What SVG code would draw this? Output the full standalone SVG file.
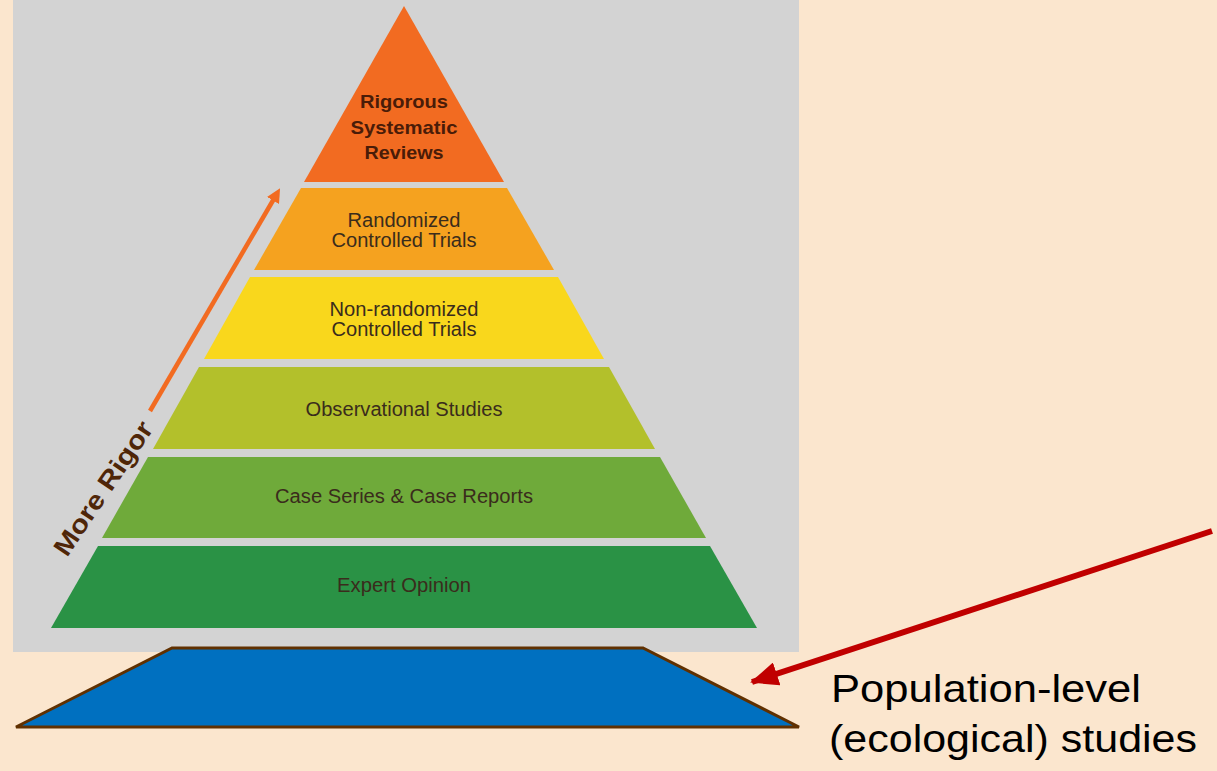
<svg xmlns="http://www.w3.org/2000/svg" width="1217" height="771" viewBox="0 0 1217 771">
<defs>
<style>
.tier-label{font-family:"Liberation Sans",Arial,sans-serif;font-size:19.5px;fill:#3a2c1c;text-anchor:middle}
.top-label{font-family:"Liberation Sans",Arial,sans-serif;font-size:18.5px;font-weight:bold;fill:#4a1c08;text-anchor:middle}
.pop{font-family:"Liberation Sans",Arial,sans-serif;font-size:39px;fill:#000}
</style>
<marker id="oarrow" markerWidth="14" markerHeight="14" refX="4" refY="7" orient="auto" markerUnits="userSpaceOnUse">
<path d="M0,0 L14,7 L0,14 Z" fill="#F26B21"/>
</marker>
<marker id="rarrow" markerWidth="28" markerHeight="24" refX="26" refY="12" orient="auto" markerUnits="userSpaceOnUse">
<path d="M0,0 L28,12 L0,24 Z" fill="#C00000"/>
</marker>
</defs>
<rect width="1217" height="771" fill="#FBE6CE"/>
<rect x="13" y="0" width="786" height="652" fill="#D3D3D3"/>

<g id="tier-systematic">
<polygon points="404,6 504,182 304,182" fill="#F26B21"/>
<text class="top-label" x="404" y="108" textLength="88" lengthAdjust="spacingAndGlyphs">Rigorous</text>
<text class="top-label" x="404" y="134" textLength="107" lengthAdjust="spacingAndGlyphs">Systematic</text>
<text class="top-label" x="404" y="159" textLength="79" lengthAdjust="spacingAndGlyphs">Reviews</text>
</g>
<g id="tier-rct">
<polygon points="301,188 507,188 554,270 254,270" fill="#F5A21F"/>
<text class="tier-label" x="404" y="227" textLength="113" lengthAdjust="spacingAndGlyphs">Randomized</text>
<text class="tier-label" x="404" y="247" textLength="145" lengthAdjust="spacingAndGlyphs">Controlled Trials</text>
</g>
<g id="tier-nrct">
<polygon points="250,277 558,277 604,359 204,359" fill="#F9D71C"/>
<text class="tier-label" x="404" y="316" textLength="149" lengthAdjust="spacingAndGlyphs">Non-randomized</text>
<text class="tier-label" x="404" y="336" textLength="145" lengthAdjust="spacingAndGlyphs">Controlled Trials</text>
</g>
<g id="tier-observational">
<polygon points="199,367 609,367 655,449 153,449" fill="#B3C02B"/>
<text class="tier-label" x="404" y="416" textLength="197" lengthAdjust="spacingAndGlyphs">Observational Studies</text>
</g>
<g id="tier-case">
<polygon points="148,457 660,457 706,538 102,538" fill="#6FAA3A"/>
<text class="tier-label" x="404" y="503" textLength="258" lengthAdjust="spacingAndGlyphs">Case Series &amp; Case Reports</text>
</g>
<g id="tier-expert">
<polygon points="98,546 710,546 757,628 51,628" fill="#2A9245"/>
<text class="tier-label" x="404" y="592" textLength="134" lengthAdjust="spacingAndGlyphs">Expert Opinion</text>
</g>
<g id="population-base">
<polygon points="172,648 643,648 799,727 16,727" fill="#0070C0" stroke="#603000" stroke-width="3" stroke-linejoin="miter"/>
</g>
<g id="more-rigor-label">
<text x="0" y="0" transform="translate(67,558) rotate(-56)" font-family="Liberation Sans,Arial,sans-serif" font-size="26" font-weight="bold" fill="#4f2608" textLength="156" lengthAdjust="spacingAndGlyphs">More Rigor</text>
</g>
<g id="population-label">
<text class="pop" x="831" y="702" textLength="310" lengthAdjust="spacingAndGlyphs">Population-level</text>
<text class="pop" x="829" y="752" textLength="368" lengthAdjust="spacingAndGlyphs">(ecological) studies</text>
</g>
<g id="connectors">
<line x1="150" y1="411" x2="275" y2="197" stroke="#F26B21" stroke-width="4.5" marker-end="url(#oarrow)"/>
<line x1="1212" y1="531" x2="752" y2="682" stroke="#C00000" stroke-width="6" marker-end="url(#rarrow)"/>
</g>
</svg>
